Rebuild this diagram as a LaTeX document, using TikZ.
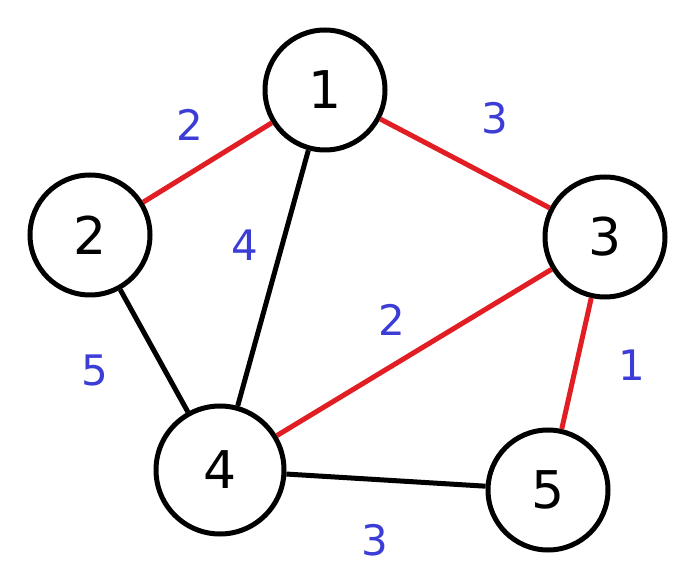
\documentclass[tikz,border=0pt]{standalone}
\usepackage{fontspec}
\setmainfont{DejaVu Sans}
\definecolor{lblue}{RGB}{60,60,215}
\definecolor{ered}{RGB}{225,30,35}
\begin{document}
\begin{tikzpicture}[x=1pt,y=-1pt,
 v/.style={circle,draw=black,line width=5pt,minimum size=120pt,inner sep=0pt,font=\fontsize{52}{52}\selectfont},
 e/.style={line width=5pt},
 r/.style={e,draw=ered},
 w/.style={text=lblue,font=\fontsize{42}{42}\selectfont}]
\useasboundingbox (0,0) rectangle (694,569);
\node[v] (n1) at (325,90) {1};
\node[v] (n2) at (90,235) {2};
\node[v] (n3) at (605,237) {3};
\node[v,minimum size=128pt] (n4) at (220,470) {4};
\node[v] (n5) at (548,490) {5};
\draw[r] (n1) -- (n2);
\draw[r] (n1) -- (n3);
\draw[e] (n1) -- (n4);
\draw[e] (n2) -- (n4);
\draw[r] (n3) -- (n4);
\draw[r] (n3) -- (n5);
\draw[e] (n4) -- (n5);
\node[w] (w12) at (190,125) {2};
\node[w] (w13) at (495,118) {3};
\node[w] (w14) at (245,245) {4};
\node[w] (w24) at (95,370) {5};
\node[w] (w34) at (392,320) {2};
\node[w] (w35) at (632,365) {1};
\node[w] (w45) at (375,540) {3};
\end{tikzpicture}
\end{document}
